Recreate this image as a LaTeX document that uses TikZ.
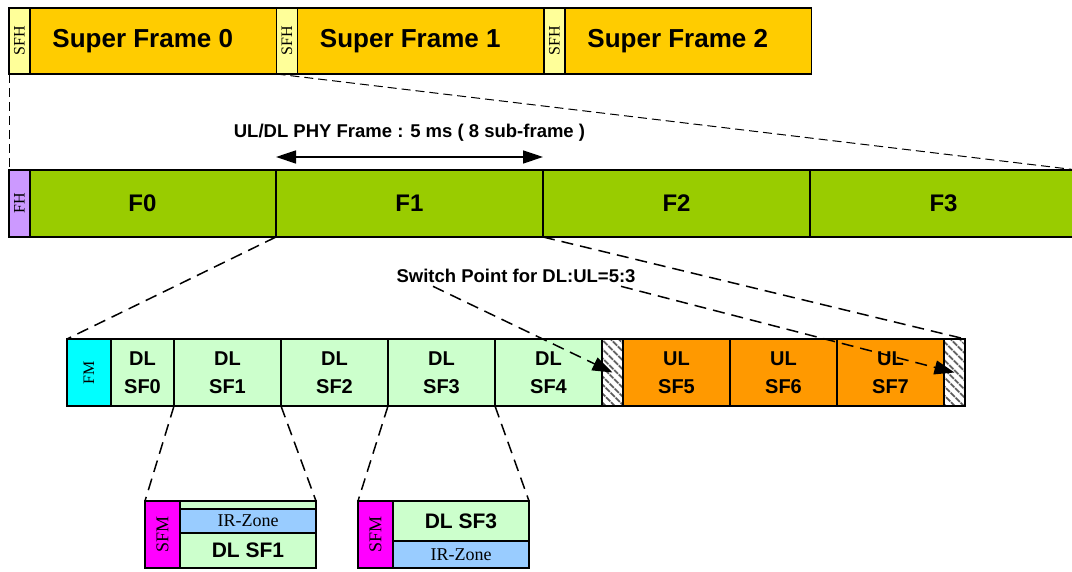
\documentclass[tikz,border=0pt]{standalone}
\usepackage{fontspec}
\setmainfont{Liberation Serif}
\setsansfont{Liberation Sans}
\usepackage{graphicx}
\usepackage{tikz}
\usetikzlibrary{positioning}
\usetikzlibrary{calc}
\usetikzlibrary{arrows.meta}
\usetikzlibrary{patterns.meta}

\definecolor{sfhYellow}{HTML}{FFFF99}
\definecolor{superOrange}{HTML}{FFCC00}
\definecolor{fhPurple}{HTML}{CC99FF}
\definecolor{frameGreen}{HTML}{99CC00}
\definecolor{fmCyan}{HTML}{00FFFF}
\definecolor{dlGreen}{HTML}{CCFFCC}
\definecolor{ulOrange}{HTML}{FF9900}
\definecolor{sfmMagenta}{HTML}{FF00FF}
\definecolor{irBlue}{HTML}{99CCFF}

\begin{document}
\begin{tikzpicture}[
	x=1pt, y=1pt,
	block/.style={draw, line width=1.2pt, outer sep=0pt, inner sep=0pt, minimum height=67pt},
	hdrbox/.style={block, minimum width=21pt, font=\fontsize{16}{16}\selectfont},
	superbox/.style={block, fill=superOrange, minimum height=66pt, minimum width=267.5pt,
		font=\sffamily\bfseries\fontsize{26}{30}\selectfont},
	framebox/.style={block, fill=frameGreen, minimum width=267pt,
		font=\sffamily\bfseries\fontsize{24}{28}\selectfont},
	subbox/.style={block, minimum width=107pt, align=center,
		font=\sffamily\bfseries\fontsize{20}{28}\selectfont},
	switchbox/.style={block, minimum width=21pt,
		pattern={Lines[angle=-45, distance=6.5pt, line width=2pt]}, pattern color=black!65},
	irbox/.style={block, fill=irBlue, minimum width=136pt, font=\fontsize{18}{18}\selectfont},
	zonebox/.style={block, fill=dlGreen, minimum width=136pt,
		font=\sffamily\bfseries\fontsize{21}{24}\selectfont},
	labeltext/.style={font=\sffamily\bfseries\fontsize{18.5}{20}\selectfont},
	zoomline/.style={line width=1.5pt, dash pattern=on 12pt off 7pt},
	thinzoom/.style={line width=1pt, dash pattern=on 9pt off 5pt}
]
\useasboundingbox (0,0) rectangle (1072,572);

% super frames
\node[superbox, anchor=south west] (super0) at (9,498) {Super Frame 0};
\node[superbox, right=0pt of super0] (super1) {Super Frame 1};
\node[superbox, right=0pt of super1] (super2) {Super Frame 2};
\node[hdrbox, fill=sfhYellow, minimum height=66pt, anchor=west] (sfh0) at (super0.west) {\rotatebox{90}{SFH}};
\node[hdrbox, fill=sfhYellow, minimum height=66pt, anchor=west] (sfh1) at (super1.west) {\rotatebox{90}{SFH}};
\node[hdrbox, fill=sfhYellow, minimum height=66pt, anchor=west] (sfh2) at (super2.west) {\rotatebox{90}{SFH}};

% frames
\node[framebox, anchor=south west] (f0) at (9,335) {F0};
\node[framebox, right=0pt of f0] (f1) {F1};
\node[framebox, right=0pt of f1] (f2) {F2};
\node[framebox, right=0pt of f2] (f3) {F3};
\node[hdrbox, fill=fhPurple, anchor=west] (fh) at (f0.west) {\rotatebox{90}{FH}};

% sub-frames
\node[hdrbox, fill=fmCyan, minimum width=44pt, anchor=south west] (fm) at (67,166) {\rotatebox{90}{FM}};
\node[subbox, fill=dlGreen, minimum width=63pt, right=0pt of fm] (dl0) {DL\\SF0};
\node[subbox, fill=dlGreen, right=0pt of dl0] (dl1) {DL\\SF1};
\node[subbox, fill=dlGreen, right=0pt of dl1] (dl2) {DL\\SF2};
\node[subbox, fill=dlGreen, right=0pt of dl2] (dl3) {DL\\SF3};
\node[subbox, fill=dlGreen, right=0pt of dl3] (dl4) {DL\\SF4};
\node[switchbox, right=0pt of dl4] (sw1) {};
\node[subbox, fill=ulOrange, right=0pt of sw1] (ul5) {UL\\SF5};
\node[subbox, fill=ulOrange, right=0pt of ul5] (ul6) {UL\\SF6};
\node[subbox, fill=ulOrange, right=0pt of ul6] (ul7) {UL\\SF7};
\node[switchbox, right=0pt of ul7] (sw2) {};

% zoomed sub-frames
\node[hdrbox, fill=sfmMagenta, minimum width=35pt, anchor=south west] (sfm1) at (145,4) {\rotatebox{90}{\fontsize{18}{18}\selectfont SFM}};
\node[zonebox, minimum height=8pt, anchor=north west] (ztop1) at (sfm1.north east) {};
\node[irbox, minimum height=24pt, below=0pt of ztop1] (ir1) {IR-Zone};
\node[zonebox, minimum height=35pt, below=0pt of ir1] (body1) {DL SF1};

\node[hdrbox, fill=sfmMagenta, minimum width=35pt, anchor=south west] (sfm3) at (358,4) {\rotatebox{90}{\fontsize{18}{18}\selectfont SFM}};
\node[zonebox, minimum height=40pt, anchor=north west] (body3) at (sfm3.north east) {DL SF3};
\node[irbox, minimum height=27pt, below=0pt of body3] (ir3) {IR-Zone};

% ---

\draw[thinzoom] (sfh0.south west) -- (fh.north west);
\draw[thinzoom] (sfh1.south west) -- (f3.north east);

\draw[line width=1.5pt, {Triangle[length=20pt, width=13pt]}-{Triangle[length=20pt, width=13pt]}]
	($(f1.north west) + (0, 13)$) -- ($(f1.north east) + (0, 13)$)
	node[midway, above=12pt, labeltext]{UL/DL PHY Frame : 5 ms ( 8 sub-frame )};

% ---

\draw[zoomline] (f1.south west) -- (fm.north west);
\draw[zoomline] (f1.south east) -- (sw2.north east);

\node[labeltext] (switchpt) at (516,296) {Switch Point for DL:UL=5:3};

\draw[zoomline, -{Triangle[length=20pt, width=14pt]}] ($(switchpt.south west) + (40, 0)$) -- (sw1.center);
\draw[zoomline, -{Triangle[length=20pt, width=14pt]}] ($(switchpt.south east) + (-18, 0)$) -- (sw2.center);

% ---

\draw[zoomline] (dl1.south west) -- (sfm1.north west);
\draw[zoomline] (dl1.south east) -- (ztop1.north east);
\draw[zoomline] (dl3.south west) -- (sfm3.north west);
\draw[zoomline] (dl3.south east) -- (body3.north east);

\end{tikzpicture}
\end{document}
